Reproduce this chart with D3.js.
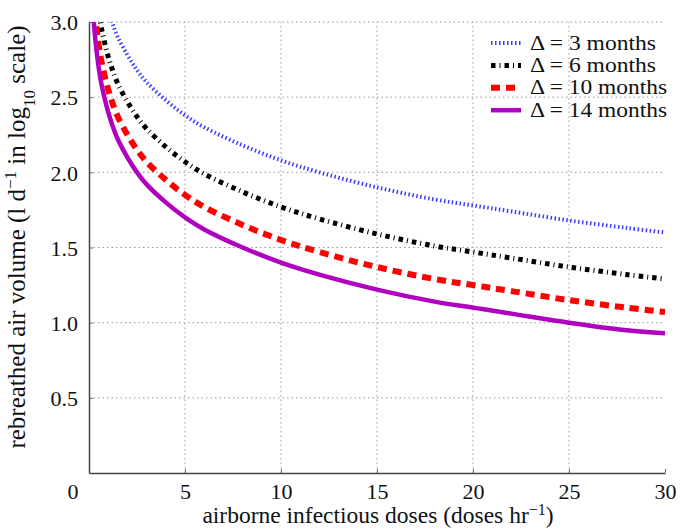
<!DOCTYPE html>
<html lang="en">
<head>
<meta charset="utf-8">
<script src="https://d3js.org/d3.v7.min.js"></script>
<style>
  body { margin: 0; background: #fff; }
</style>
</head>
<body>
<script>
// values (log10 of rebreathed volume)
var doses = [0.15, 0.25, 0.4, 0.6, 0.8, 1, 1.2, 1.5, 2, 2.5, 3, 4, 5, 6, 8, 10, 12, 15, 18, 20, 22, 25, 28, 30];
var months3  = [3.9, 3.68, 3.48, 3.30, 3.18, 3.08, 3.00, 2.90, 2.78, 2.68, 2.60, 2.48, 2.38, 2.30, 2.18, 2.08, 2.00, 1.90, 1.82, 1.78, 1.74, 1.68, 1.63, 1.60];
var months6  = [3.59, 3.37, 3.17, 2.99, 2.87, 2.77, 2.69, 2.59, 2.47, 2.37, 2.29, 2.17, 2.07, 1.99, 1.87, 1.77, 1.69, 1.59, 1.51, 1.47, 1.43, 1.37, 1.32, 1.29];
var months10 = [3.37, 3.15, 2.95, 2.77, 2.65, 2.55, 2.47, 2.37, 2.25, 2.15, 2.07, 1.95, 1.85, 1.77, 1.65, 1.55, 1.47, 1.37, 1.29, 1.25, 1.21, 1.15, 1.10, 1.07];
var months14 = [3.22, 3.00, 2.80, 2.62, 2.50, 2.40, 2.32, 2.22, 2.10, 2.00, 1.92, 1.80, 1.70, 1.62, 1.50, 1.40, 1.32, 1.22, 1.14, 1.10, 1.06, 1.00, 0.95, 0.93];
var seriesNames = ["\u0394 = 3 months", "\u0394 = 6 months", "\u0394 = 10 months", "\u0394 = 14 months"];
var xTicks = [5, 10, 15, 20, 25, 30];
var yTicks = [0.5, 1.0, 1.5, 2.0, 2.5, 3.0];

var width = 680, height = 529;
var margin = {top: 22, right: 15, bottom: 56, left: 89};
var serif = "'Liberation Serif', 'Times New Roman', 'DejaVu Serif', serif";

var svg = d3.select("body").append("svg")
    .attr("width", width)
    .attr("height", height)
    .attr("font-family", serif);

var x = d3.scaleLinear().domain([0, 30]).range([margin.left, width - margin.right]);
var y = d3.scaleLinear().domain([0, 3]).range([height - margin.bottom, margin.top]);

svg.append("clipPath").attr("id", "plot")
  .append("rect")
    .attr("x", margin.left).attr("y", margin.top)
    .attr("width", x(30) - margin.left).attr("height", y(0) - margin.top);

// dotted grid
var grid = svg.append("g").attr("stroke", "#999").attr("stroke-dasharray", "1.5,3").attr("stroke-width", 1);
grid.selectAll(".gx").data(xTicks.slice(0, 5)).enter().append("line")
    .attr("x1", function(d) { return x(d); }).attr("x2", function(d) { return x(d); })
    .attr("y1", y(0)).attr("y2", y(3));
grid.selectAll(".gy").data(yTicks).enter().append("line")
    .attr("x1", x(0)).attr("x2", x(30))
    .attr("y1", function(d) { return y(d); }).attr("y2", function(d) { return y(d); });

// axes
var xAxis = svg.append("g")
    .attr("transform", "translate(0," + y(0) + ")")
    .call(d3.axisBottom(x).tickValues(xTicks).tickSizeInner(-4).tickSizeOuter(0).tickPadding(11));
var yAxis = svg.append("g")
    .attr("transform", "translate(" + x(0) + ",0)")
    .call(d3.axisLeft(y).tickValues(yTicks).tickFormat(d3.format(".1f")).tickSizeInner(-4).tickSizeOuter(0).tickPadding(11));
[xAxis, yAxis].forEach(function(a) {
  a.attr("font-family", serif).attr("font-size", 22);
  a.select(".domain").attr("stroke", "#444").attr("stroke-width", 1.5);
  a.selectAll(".tick line").attr("stroke", "#666");
  a.selectAll("text").attr("fill", "#111");
});
yAxis.selectAll("text").attr("dy", "0.35em");
xAxis.selectAll("text").attr("dy", "0.66em");

svg.append("text")
    .attr("x", 73).attr("y", 499)
    .attr("text-anchor", "middle").attr("font-size", 22).attr("fill", "#111")
    .text("0");

// curves
var styles = [
  {color: "#3c3cff", width: 4, dash: "1.5,2.5"},
  {color: "#000", width: 5, dash: "4.5,4,1,4"},
  {color: "#ff0000", width: 6, dash: "9,6"},
  {color: "#b000c0", width: 4.5, dash: null}
];
var allSeries = [months3, months6, months10, months14];

var line = d3.line()
    .x(function(d, i) { return x(doses[i]); })
    .y(function(d) { return y(d); })
    .curve(d3.curveCatmullRom.alpha(0.5));

svg.append("g").attr("clip-path", "url(#plot)")
  .selectAll("path").data(allSeries).enter().append("path")
    .attr("d", line)
    .attr("fill", "none")
    .attr("stroke", function(d, i) { return styles[i].color; })
    .attr("stroke-width", function(d, i) { return styles[i].width; })
    .attr("stroke-dasharray", function(d, i) { return styles[i].dash; });

// legend
var rows = svg.append("g").selectAll("g").data(seriesNames).enter().append("g")
    .attr("transform", function(d, i) { return "translate(491," + (43 + i * 22.4) + ")"; });
rows.append("line")
    .attr("x1", 0).attr("x2", 30).attr("y1", 0).attr("y2", 0)
    .attr("stroke", function(d, i) { return styles[i].color; })
    .attr("stroke-width", function(d, i) { return styles[i].width; })
    .attr("stroke-dasharray", function(d, i) { return styles[i].dash; });
rows.append("text")
    .attr("x", 39).attr("y", 6.5)
    .attr("font-size", 20).attr("fill", "#111")
    .attr("textLength", function(d, i) { return i < 2 ? 126 : 137; })
    .attr("lengthAdjust", "spacingAndGlyphs")
    .text(function(d) { return d; });

// axis titles
svg.append("text")
    .attr("x", 378).attr("y", 523)
    .attr("text-anchor", "middle").attr("font-size", 23.5).attr("fill", "#111")
    .html("airborne infectious doses (doses hr<tspan baseline-shift='super' font-size='16'>\u22121</tspan>)");

svg.append("text")
    .attr("transform", "translate(25,237) rotate(-90)")
    .attr("text-anchor", "middle").attr("font-size", 25).attr("fill", "#111")
    .html("rebreathed air volume (l d<tspan baseline-shift='super' font-size='17'>\u22121</tspan> in log<tspan baseline-shift='sub' font-size='17'>10</tspan> scale)");
</script>
</body>
</html>
